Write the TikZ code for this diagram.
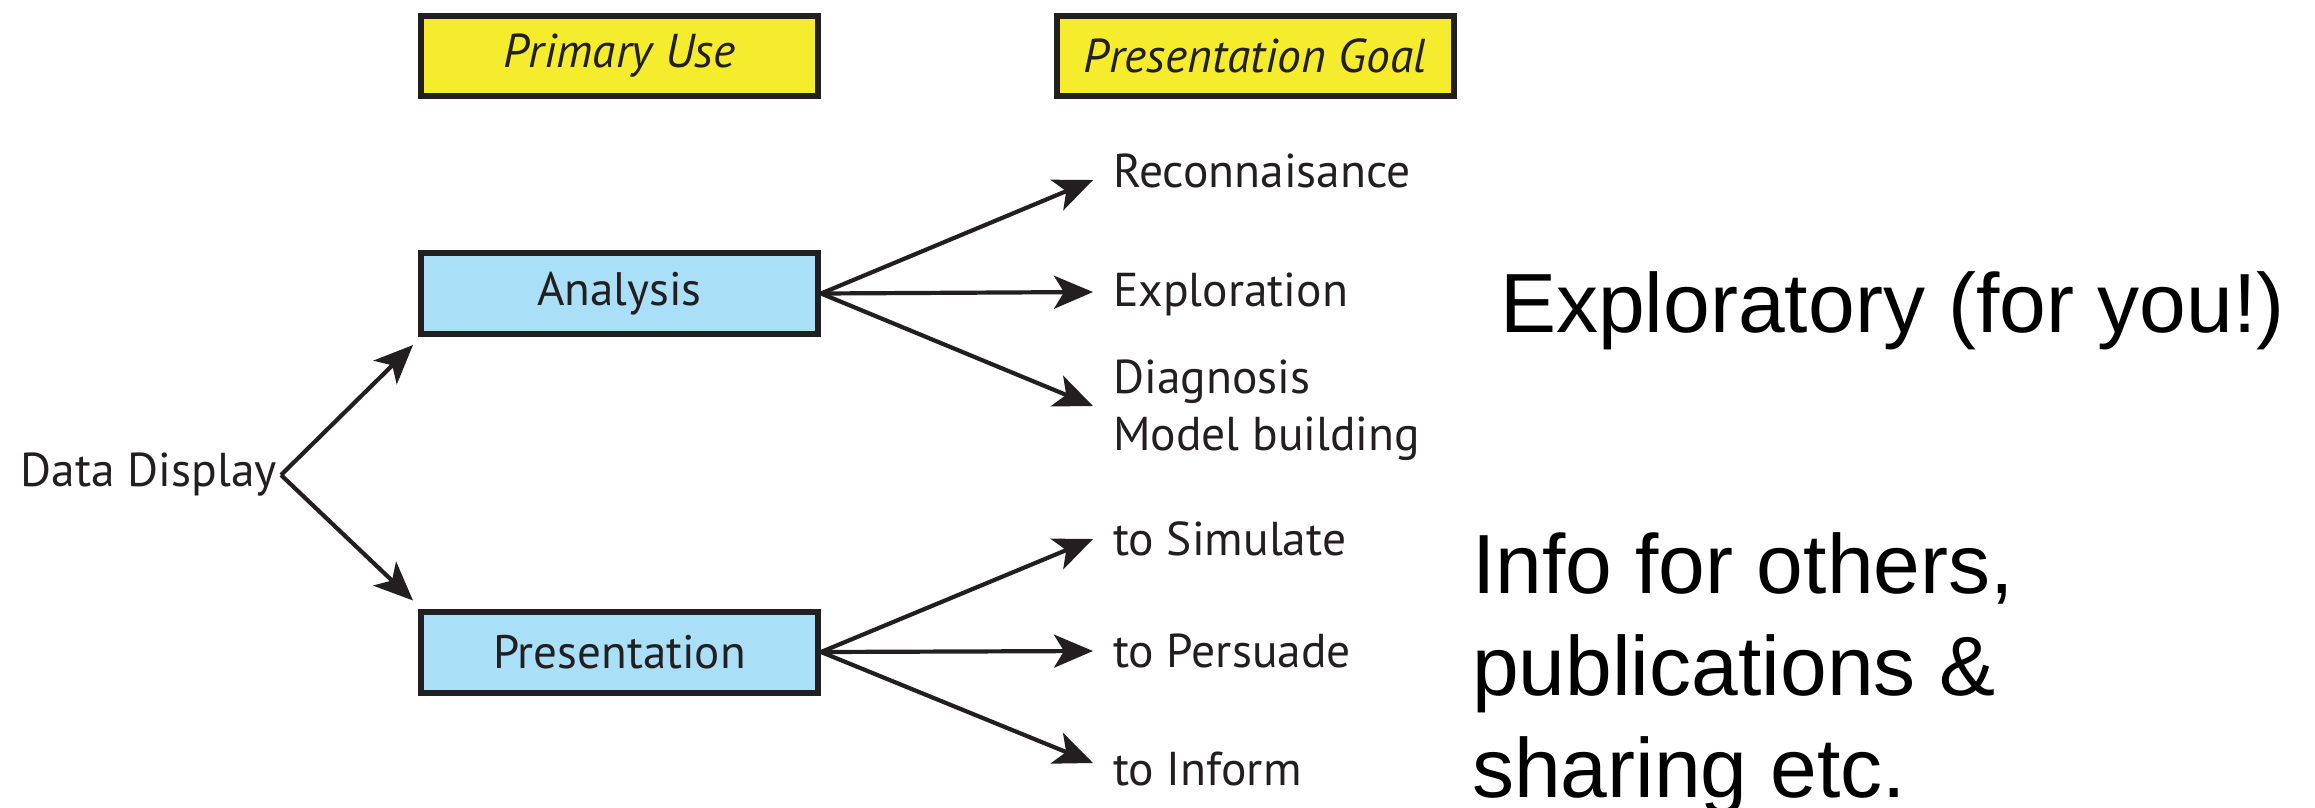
\documentclass[tikz,border=0pt]{standalone}
\usepackage{fontspec}
\setmainfont{PT Sans}
\newfontfamily\bigfont{Liberation Sans}
\usetikzlibrary{arrows.meta,calc}
\definecolor{boxyellow}{HTML}{F4EC2C}
\definecolor{boxblue}{HTML}{AAE0F7}
\definecolor{ink}{HTML}{231F20}
\begin{document}
\begin{tikzpicture}[x=1pt,y=-1pt,
  font=\fontsize{47.5}{56}\selectfont,
  hdr/.style={draw=ink, line width=6pt, fill=boxyellow, minimum width=397pt, minimum height=80pt, text=ink, font=\fontsize{47.5}{56}\selectfont\itshape},
  usebox/.style={draw=ink, line width=6pt, fill=boxblue, minimum width=397pt, minimum height=81pt, text=ink, font=\fontsize{47}{56}\selectfont},
  lbl/.style={anchor=base west, inner sep=0pt, text=ink},
  arr/.style={draw=ink, line width=4.2pt, -{Stealth[length=39pt,width=33pt,inset=10pt]}},
  note/.style={font=\bigfont\fontsize{84}{102}\selectfont, anchor=base west, inner sep=0pt, text=black}
]
\useasboundingbox[fill=white] (0,0) rectangle (2315,807);

% headers
\node[hdr] (pu) at (619.5,56) {Primary Use};
\node[hdr] (pg) at (1255,56) {Presentation Goal};

% primary use boxes
\node[usebox] (an) at (619.5,293.5) {Analysis};
\node[usebox] (pr) at (619.5,652) {Presentation};

% data display
\node[anchor=east, inner sep=4pt, text=ink] (dd) at (281,475) {Data Display};

% goals
\node[lbl] (rec) at (1113,187) {Reconnaisance};
\node[lbl] (exp) at (1113,306) {Exploration};
\node[lbl] (dia) at (1113,393) {Diagnosis};
\node[lbl] (mod) at (1113,450) {Model building};
\node[lbl] (sim) at (1113,555) {to Simulate};
\node[lbl] (per) at (1113,667) {to Persuade};
\node[lbl] (inf) at (1113,785) {to Inform};

% notes
\node[note] (ex) at (1500,332) {Exploratory (for you!)};
\node[note] (i1) at (1472,593) {Info for others,};
\node[note] (i2) at (1472,695) {publications \&};
\node[note] (i3) at (1472,797) {sharing etc.};

% connectors
\draw[arr] (dd.east) -- ($(an.south west)+(-5,8)$);
\draw[arr] (dd.east) -- ($(pr.north west)+(-5,-8)$);

\draw[arr] (an.east) -- ($(rec.base west)+(-20,-7)$);
\draw[arr] (an.east) -- ($(exp.base west)+(-20,-14)$);
\draw[arr] (an.east) -- ($(dia.base west)+(-20,13)$);

\draw[arr] (pr.east) -- ($(sim.base west)+(-20,-16)$);
\draw[arr] (pr.east) -- ($(per.base west)+(-20,-16)$);
\draw[arr] (pr.east) -- ($(inf.base west)+(-20,-22)$);
\end{tikzpicture}
\end{document}
